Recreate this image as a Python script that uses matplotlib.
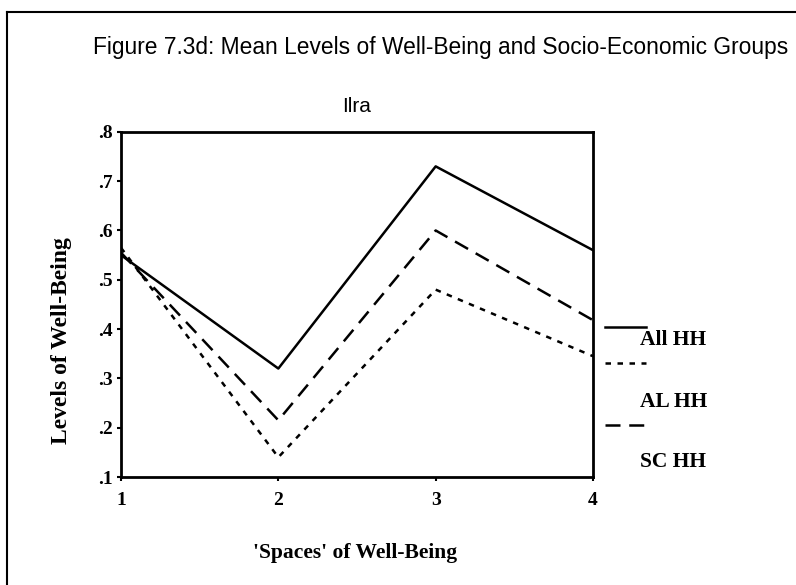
import matplotlib
matplotlib.use("Agg")
import matplotlib.pyplot as plt
from matplotlib.lines import Line2D

# data
spaces = [1, 2, 3, 4]
all_hh = [0.55, 0.32, 0.73, 0.56]
al_hh = [0.565, 0.14, 0.48, 0.345]
sc_hh = [0.555, 0.215, 0.60, 0.418]
y_ticks = [0.1, 0.2, 0.3, 0.4, 0.5, 0.6, 0.7, 0.8]
y_tick_labels = [".1", ".2", ".3", ".4", ".5", ".6", ".7", ".8"]
legend_labels = ["All HH", "AL HH", "SC HH"]

serif = "Liberation Serif"
sans = "Liberation Sans"

fig = plt.figure(figsize=(7.96, 5.85), dpi=100)
ax = fig.add_axes([0.152, 0.1846, 0.593, 0.590])

styles = [
    dict(linestyle="-"),
    dict(linestyle=(0, (2.2, 2.6))),
    dict(linestyle=(0, (6, 3.5))),
]
series = [all_hh, al_hh, sc_hh]
for vals, st in zip(series, styles):
    ax.plot(spaces, vals, color="black", linewidth=1.8, **st)

ax.set_xlim(1, 4)
ax.set_ylim(0.1, 0.8)
ax.set_xticks(spaces)
ax.set_xticklabels([str(s) for s in spaces], fontfamily=serif, fontweight="bold", fontsize=14)
ax.set_yticks(y_ticks)
ax.set_yticklabels(y_tick_labels, fontfamily=serif, fontweight="bold", fontsize=14)
ax.tick_params(direction="out", length=3, width=1.5)
ax.tick_params(axis="x", pad=8)
ax.tick_params(axis="y", pad=3)
for sp in ax.spines.values():
    sp.set_linewidth(2)

ax.set_title("Ilra", fontfamily=sans, fontsize=15, pad=14)
ax.set_ylabel("Levels of Well-Being", fontfamily=serif, fontweight="bold", fontsize=17)
ax.yaxis.set_label_coords(-0.125, 0.394)
ax.set_xlabel("'Spaces' of Well-Being", fontfamily=serif, fontweight="bold", fontsize=15.5)
ax.xaxis.set_label_coords(0.496, -0.22)
ax.xaxis.label.set_va("center")
ax.yaxis.label.set_va("center")

# odd legend: line sample above each label, right of the plot
key_y = [0.436, 0.331, 0.151]
text_y = [0.398, 0.218, 0.044]
for st, ky, ty, lab in zip(styles, key_y, text_y, legend_labels):
    ax.plot([1.025, 1.112], [ky, ky], transform=ax.transAxes, clip_on=False,
            color="black", linewidth=1.8, **st)
    ax.text(1.1, ty, lab, transform=ax.transAxes, fontfamily=serif,
            fontweight="bold", fontsize=15.5, va="center", ha="left")

fig.text(0.117, 0.918, "Figure 7.3d: Mean Levels of Well-Being and Socio-Economic Groups",
         fontfamily=sans, fontsize=16.4, va="center", ha="left")

# page frame
fig.add_artist(Line2D([0.0088, 0.0088], [0.0, 0.9795], color="black", linewidth=1.5))
fig.add_artist(Line2D([0.0088, 1.0], [0.9795, 0.9795], color="black", linewidth=1.5))

fig.savefig("out.png", dpi=100)
